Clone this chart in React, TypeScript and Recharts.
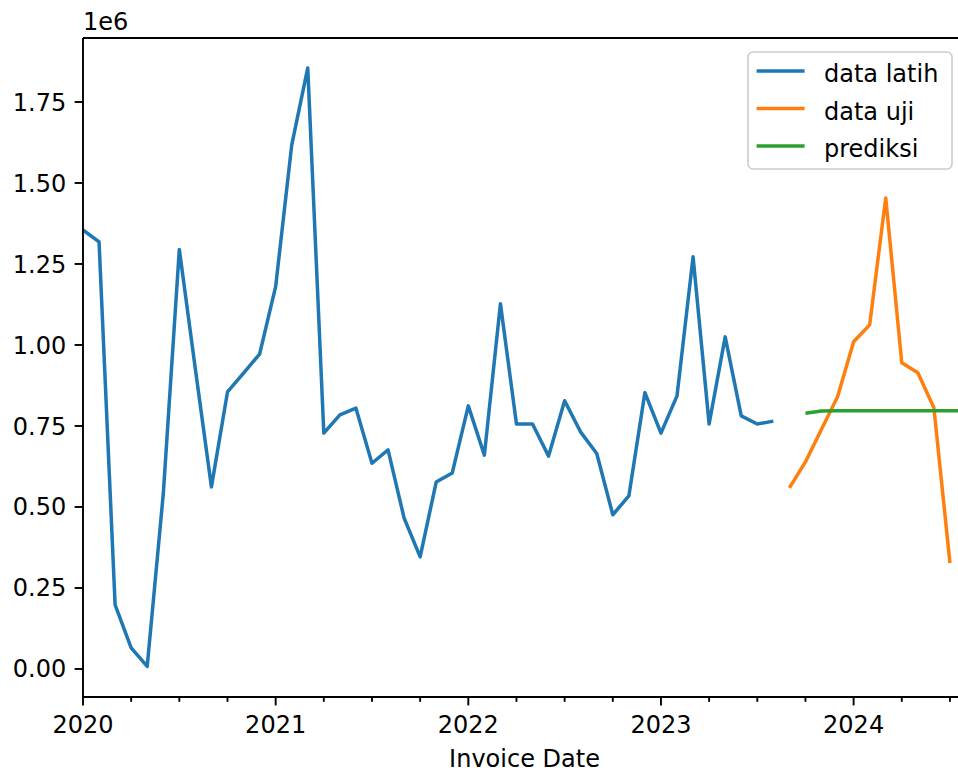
import { Legend, Line, LineChart, ReferenceLine, XAxis, YAxis } from "recharts";

// monthly periods shown on the x axis (2020-01 .. 2024-08)
const months: string[] = [];
for (let y = 2020; y <= 2024; y++) {
  for (let m = 1; m <= 12; m++) {
    if (y === 2024 && m > 8) break;
    months.push(`${y}-${String(m).padStart(2, "0")}`);
  }
}

// data latih: 2020-01 .. 2023-08
const trainStart = "2020-01";
const trainValues = [
  1355000, 1318000, 198000, 65000, 8000, 540000, 1295000, 925000, 562000, 855000,
  913000, 972000, 1180000, 1617000, 1855000, 728000, 784000, 805000, 635000, 676000,
  466000, 346000, 577000, 605000, 812000, 660000, 1127000, 756000, 756000, 657000,
  828000, 731000, 665000, 476000, 534000, 853000, 728000, 843000, 1272000, 756000,
  1025000, 781000, 756000, 765000,
];

// data uji: 2023-09 .. 2024-07
const testStart = "2023-09";
const testValues = [559000, 639000, 740000, 840000, 1010000, 1062000, 1454000, 945000, 914000, 806000, 327000];

// prediksi: 2023-10 .. 2024-08
const predStart = "2023-10";
const predValues = [789000, 796000, 797000, 797000, 797000, 797000, 797000, 797000, 797000, 797000, 797000];

const yTicks = [0, 250000, 500000, 750000, 1000000, 1250000, 1500000, 1750000];
const yearLabels: Record<string, string> = { "2020-01": "2020", "2021-01": "2021", "2022-01": "2022", "2023-01": "2023", "2024-01": "2024" };

const Y_MIN = -86500;
const Y_MAX = 1947500;

const series = [
  { key: "latih", name: "data latih", color: "#1f77b4" },
  { key: "uji", name: "data uji", color: "#ff7f0e" },
  { key: "prediksi", name: "prediksi", color: "#2ca02c" },
];

const pick = (vals: number[], start: string, i: number) => {
  const k = i - months.indexOf(start);
  return k >= 0 && k < vals.length ? vals[k] : null;
};

const data = months.map((m, i) => ({
  t: i,
  latih: pick(trainValues, trainStart, i),
  uji: pick(testValues, testStart, i),
  prediksi: pick(predValues, predStart, i),
}));

const xTicks = months.map((_, i) => i).filter((i) => i % 3 === 0);

const FONT = 24;

function XTick(props: any) {
  const { x, y, payload } = props;
  const label = yearLabels[months[payload.value]];
  return (
    <g>
      <line x1={x} x2={x} y1={y} y2={y + (label ? 8.4 : 4.8)} stroke="#000" strokeWidth={1.9} />
      {label && (
        <text x={x} y={y + 36} textAnchor="middle" fill="#000" fontSize={FONT}>
          {label}
        </text>
      )}
    </g>
  );
}

function LegendBox() {
  return (
    <svg width={206} height={119}>
      <rect x={1} y={1} width={204} height={117} rx={5} fill="rgba(255,255,255,0.8)" stroke="#cccccc" strokeWidth={1.6} />
      {series.map((s, i) => (
        <g key={s.key}>
          <line x1={9.6} x2={57.6} y1={20 + i * 37.5} y2={20 + i * 37.5} stroke={s.color} strokeWidth={3.5} />
          <text x={77} y={31 + i * 37.5} fontSize={FONT} fill="#000">
            {s.name}
          </text>
        </g>
      ))}
    </svg>
  );
}

export default function App() {
  return (
    <div style={{ position: "absolute", left: 0, top: 0, width: 958, height: 773, overflow: "hidden", background: "#fff", fontFamily: "DejaVu Sans" }}>
      <div style={{ position: "relative" }}>
        <LineChart width={966} height={773} data={data} margin={{ top: 38, right: 0, bottom: 0, left: 0 }}>
          <XAxis
            dataKey="t"
            type="number"
            domain={[0, 55]}
            allowDataOverflow
            ticks={xTicks}
            interval={0}
            height={76}
            tickSize={0}
            tickMargin={0}
            tickLine={false}
            axisLine={{ stroke: "#000", strokeWidth: 1.9 }}
            tick={(p: any) => <XTick {...p} />}
            label={{ value: "Invoice Date", position: "insideBottom", offset: 6, fill: "#000", fontSize: FONT }}
          />
          <YAxis
            type="number"
            domain={[Y_MIN, Y_MAX]}
            allowDataOverflow
            ticks={yTicks}
            interval={0}
            width={83}
            tickSize={8.4}
            tickMargin={8.4}
            tickFormatter={(v: number) => (v / 1e6).toFixed(2)}
            tick={{ fill: "#000", fontSize: FONT }}
            tickLine={{ stroke: "#000", strokeWidth: 1.9 }}
            axisLine={{ stroke: "#000", strokeWidth: 1.9 }}
          />
          <ReferenceLine y={Y_MAX} stroke="#000" strokeWidth={1.9} />
          {series.map((s) => (
            <Line
              key={s.key}
              type="linear"
              dataKey={s.key}
              name={s.name}
              stroke={s.color}
              strokeWidth={3.5}
              strokeLinejoin="round"
              dot={false}
              activeDot={false}
              isAnimationActive={false}
            />
          ))}
          <Legend
            layout="horizontal"
            verticalAlign="middle"
            align="center"
            wrapperStyle={{ left: 747, top: 51, width: 206, height: 119 }}
            content={() => <LegendBox />}
          />
        </LineChart>
        <div style={{ position: "absolute", left: 83, top: 0, height: 38 }}>
          <svg width={60} height={38}>
            <text x={0} y={30} fontSize={FONT} fill="#000">
              1e6
            </text>
          </svg>
        </div>
      </div>
    </div>
  );
}
